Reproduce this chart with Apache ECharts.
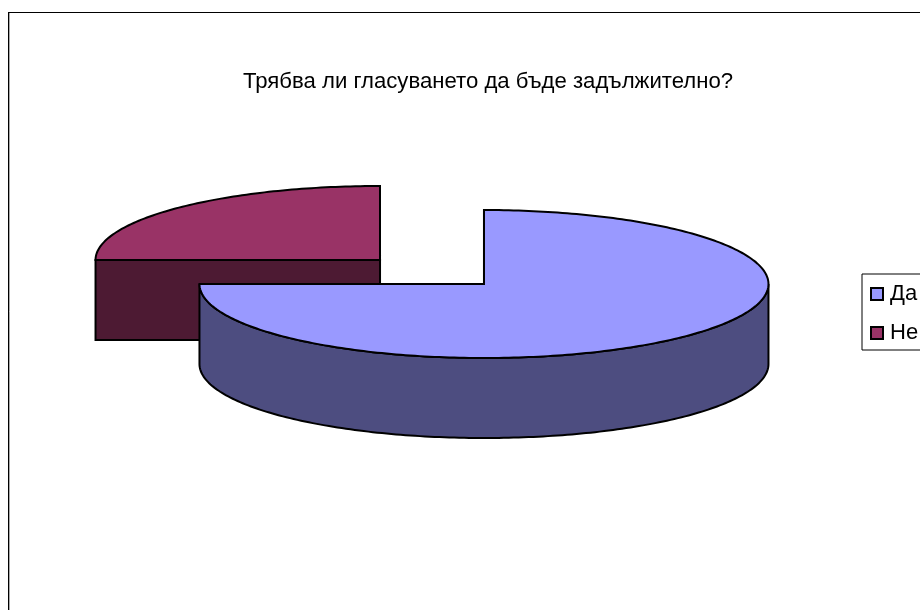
<!DOCTYPE html>
<html>
<head>
<meta charset="utf-8">
<style>html,body{margin:0;padding:0;background:#fff}#c{width:920px;height:610px}</style>
<script src="https://cdn.jsdelivr.net/npm/echarts@6/dist/echarts.min.js"></script>
</head>
<body>
<div id="c"></div>
<script>
const chartTitle = 'Трябва ли гласуването да бъде задължително?';
const categories = ['Да', 'Не'];
const values = [75, 25];
const topColors = ['#9999FF', '#993366'];
const sideColors = ['#4D4D80', '#4D1A33'];

const total = values.reduce((a, b) => a + b, 0);
const base = { x: 432, y: 272, rx: 284.5, ry: 74, depth: 80, ex: 73.5, ey: 17 };
const lineStyle = { stroke: '#000', lineWidth: 2, lineJoin: 'miter' };

function sliceRange(i) {
  let s = 0;
  for (let k = 0; k < i; k++) s += values[k];
  return [s / total * 360, (s + values[i]) / total * 360];
}
function polar(cx, cy, deg) {
  const r = deg * Math.PI / 180;
  return [cx + base.rx * Math.sin(r), cy - base.ry * Math.cos(r)];
}
function renderSlice(i) {
  const [s, e] = sliceRange(i);
  const mid = (s + e) / 2 * Math.PI / 180;
  const cx = base.x + base.ex * Math.sin(mid);
  const cy = base.y - base.ey * Math.cos(mid);
  const children = [];
  const side = { fill: sideColors[i], ...lineStyle };
  const wall = a => {
    const p = polar(cx, cy, a);
    return [[cx, cy], p, [p[0], p[1] + base.depth], [cx, cy + base.depth]];
  };
  if (Math.sin(s * Math.PI / 180) < -1e-6) children.push({ type: 'polygon', shape: { points: wall(s) }, style: side });
  if (Math.sin(e * Math.PI / 180) > 1e-6) children.push({ type: 'polygon', shape: { points: wall(e) }, style: side });
  const a0 = Math.max(s, 90), a1 = Math.min(e, 270);
  if (a1 > a0) {
    const upper = [], lower = [];
    for (let a = a0; a <= a1 + 1e-6; a += 1) {
      const p = polar(cx, cy, a);
      upper.push(p);
      lower.unshift([p[0], p[1] + base.depth]);
    }
    children.push({ type: 'polygon', shape: { points: upper.concat(lower) }, style: side });
  }
  const topPts = [[cx, cy]];
  for (let a = s; a <= e + 1e-6; a += 1) topPts.push(polar(cx, cy, a));
  children.push({ type: 'polygon', shape: { points: topPts }, style: { fill: topColors[i], ...lineStyle } });
  return { type: 'group', children };
}

// back slice first, so the nearer slice overlaps it
const drawOrder = [1, 0];
const chart = echarts.init(document.getElementById('c'), null, { renderer: 'canvas' });
chart.setOption({
  animation: false,
  backgroundColor: '#fff',
  title: {
    text: chartTitle,
    left: 243, top: 71,
    padding: 0,
    textStyle: { fontFamily: 'Liberation Sans', fontSize: 22.15, fontWeight: 'normal', color: '#000' }
  },
  legend: {
    data: categories,
    orient: 'vertical',
    left: 862, top: 274,
    padding: [9, 24, 6, 8],
    itemWidth: 12, itemHeight: 12, itemGap: 17,
    icon: 'rect',
    borderColor: '#000', borderWidth: 1,
    selectedMode: false,
    itemStyle: { borderColor: '#000', borderWidth: 2 },
    textStyle: { fontFamily: 'Liberation Sans', fontSize: 22, color: '#000', padding: [0, 0, 0, 2] }
  },
  graphic: [
    { type: 'line', shape: { x1: 9.5, y1: 13, x2: 9.5, y2: 610 }, style: { stroke: '#aaa', lineWidth: 1 } },
    { type: 'line', shape: { x1: 8.5, y1: 12, x2: 8.5, y2: 610 }, style: { stroke: '#000', lineWidth: 1 } },
    { type: 'line', shape: { x1: 8, y1: 12.5, x2: 920, y2: 12.5 }, style: { stroke: '#000', lineWidth: 1 } }
  ],
  series: drawOrder.map(i => ({
    type: 'custom',
    name: categories[i],
    coordinateSystem: 'none',
    silent: true,
    z: 2 + drawOrder.indexOf(i),
    itemStyle: { color: topColors[i] },
    data: [values[i]],
    renderItem: () => renderSlice(i)
  }))
});
</script>
</body>
</html>
